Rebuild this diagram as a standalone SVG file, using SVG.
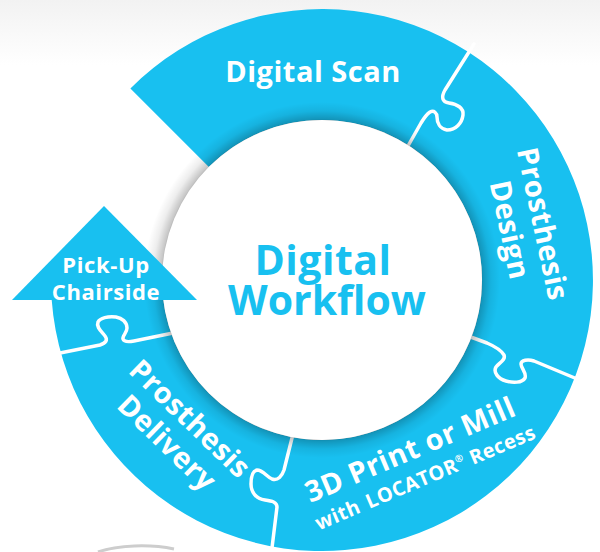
<svg xmlns="http://www.w3.org/2000/svg" width="600" height="552" viewBox="0 0 600 552">
<defs>
<linearGradient id="topfade" x1="0" y1="0" x2="0" y2="1">
<stop offset="0" stop-color="#f2f2f2"/>
<stop offset="1" stop-color="#ffffff"/>
</linearGradient>
<radialGradient id="shadow" gradientUnits="userSpaceOnUse" cx="322" cy="280" r="178">
<stop offset="0.88" stop-color="#000" stop-opacity="0.45"/>
<stop offset="0.905" stop-color="#000" stop-opacity="0.22"/>
<stop offset="0.95" stop-color="#000" stop-opacity="0.07"/>
<stop offset="1" stop-color="#000" stop-opacity="0"/>
</radialGradient>
<style>
.blue{fill:#18c0f0}
.join{fill:none;stroke:#fff;stroke-width:3.5;stroke-linecap:round;stroke-linejoin:round}
.lbl{font-family:"Open Sans","Liberation Sans",sans-serif;font-weight:700;fill:#fff;text-anchor:middle}
.big{font-family:"Open Sans","Liberation Sans",sans-serif;font-weight:700;fill:#18c0f0;text-anchor:middle;font-size:41px}
</style>
</defs>
<rect width="600" height="552" fill="#fff"/>
<rect width="600" height="65" fill="url(#topfade)"/>
<path d="M98,552 C118,545 150,544 174,549" fill="none" stroke="#cdcdcd" stroke-width="3"/>

<g id="ring">
<path class="blue" d="M130.4,88.4 A271,271 0 1 1 51.7,300 L163.3,300 A160,160 0 1 0 208.9,166.9 Z"/>
</g>

<g id="connectors">
<path class="join" d="M474,44 L445,90 C441,97 442,102 449,103 C457,104 464,108 463,115 C462,123 456,130 447,130 C440,129 437,123 437,117 C437,113 434,110 430,112 C427,114 424,118 421,123 L404,153"/>
<path class="join" d="M468,336 L487,343 C494,346 501,350 504,355 C506,360 499,363 496,367 C493,372 498,379 506,381 C513,383 522,383 525,378 C527,373 521,368 521,364 C521,360 528,359 534,361 L582,381"/>
<path class="join" d="M294,430 L284,470 C282,476 278,481 272,479 C267,477 263,470 257,470 C252,471 251,478 251,484 C251,492 256,499 265,500 C272,501 277,502 277,507 L271,556"/>
<path class="join" d="M55,354 L100,345 C106,343 108,340 105,336 C101,331 96,327 98,322 C100,318 108,316 116,317 C122,318 127,322 127,328 C127,333 122,336 123,339 C124,342 129,342 134,341 L178,332"/>
</g>

<circle cx="322" cy="280" r="178" fill="url(#shadow)"/>

<g id="center">
<circle cx="322" cy="280" r="160" fill="#fff"/>
<text class="big" x="323" y="275" letter-spacing="0.5">Digital</text>
<text class="big" x="327" y="315">Workflow</text>
</g>

<g id="pickup">
<path class="blue" d="M12,300 L104,206 L197,300 Z"/>
<text class="lbl" x="106" y="273" font-size="22" letter-spacing="0.6">Pick-Up</text>
<text class="lbl" x="106" y="300" font-size="22" letter-spacing="0.6">Chairside</text>
</g>

<g id="scan">
<text class="lbl" x="313" y="82" font-size="29" letter-spacing="0.5">Digital Scan</text>
</g>

<g id="design">
<text class="lbl" font-size="29" letter-spacing="0.5" transform="translate(533,226) rotate(78)">Prosthesis</text>
<text class="lbl" font-size="29" letter-spacing="0.5" transform="translate(500,232) rotate(78)">Design</text>
</g>

<g id="print">
<text class="lbl" font-size="29" letter-spacing="0.5" transform="translate(414,459) rotate(-23)">3D Print or Mill</text>
<text class="lbl" font-size="20" letter-spacing="0.5" transform="translate(428,484) rotate(-23)">with<tspan dx="8">LOCATOR</tspan><tspan font-size="10" dy="-8">®</tspan><tspan dy="8"> Recess</tspan></text>
</g>

<g id="delivery">
<text class="lbl" font-size="29" letter-spacing="0.5" transform="translate(183,426) rotate(44)">Prosthesis</text>
<text class="lbl" font-size="29" letter-spacing="0.5" transform="translate(160,450) rotate(44)">Delivery</text>
</g>
</svg>
